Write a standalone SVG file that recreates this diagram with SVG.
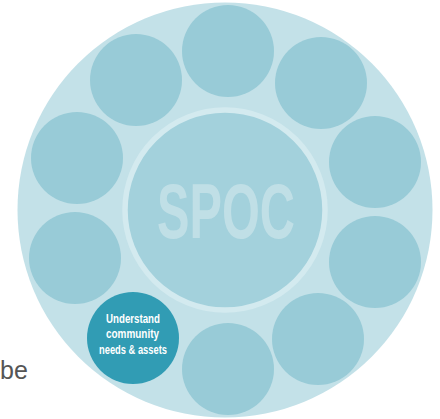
<svg xmlns="http://www.w3.org/2000/svg" width="440" height="419" viewBox="0 0 440 419">
<style>
.sat{fill:#98cbd7}
.lbl{font-family:"Liberation Sans",Arial,sans-serif;font-weight:bold;fill:#ffffff;font-size:13.5px;text-anchor:middle}
</style>
<rect width="440" height="419" fill="#ffffff"/>
<text x="0" y="379" font-family="Liberation Sans, Arial, sans-serif" font-size="25" fill="#555555">be</text>
<g id="outer"><circle cx="225" cy="210" r="207.5" fill="#c3e1e8"/></g>
<g id="spoc">
<circle cx="225" cy="210" r="100" fill="#a3d1dc" stroke="#d3eaef" stroke-width="5.5"/>
<text x="226" y="238" font-family="Liberation Sans, Arial, sans-serif" font-weight="bold" font-size="78" fill="#c0dfe6" text-anchor="middle" textLength="138" lengthAdjust="spacingAndGlyphs">SPOC</text>
</g>
<g id="n1"><circle class="sat" cx="228" cy="51" r="46"/></g>
<g id="n2"><circle class="sat" cx="321" cy="83" r="46"/></g>
<g id="n3"><circle class="sat" cx="375" cy="162" r="46"/></g>
<g id="n4"><circle class="sat" cx="375" cy="262" r="46"/></g>
<g id="n5"><circle class="sat" cx="318" cy="339" r="46"/></g>
<g id="n6"><circle class="sat" cx="228" cy="369" r="46"/></g>
<g id="n7">
<circle cx="133" cy="338" r="46" fill="#319cb4"/>
<text class="lbl" x="133" y="323" textLength="54" lengthAdjust="spacingAndGlyphs">Understand</text>
<text class="lbl" x="132.5" y="338" textLength="53" lengthAdjust="spacingAndGlyphs">community</text>
<text class="lbl" x="133" y="354" textLength="68" lengthAdjust="spacingAndGlyphs">needs &amp; assets</text>
</g>
<g id="n8"><circle class="sat" cx="75" cy="258" r="46"/></g>
<g id="n9"><circle class="sat" cx="77" cy="158" r="46"/></g>
<g id="n10"><circle class="sat" cx="136" cy="80" r="46"/></g>
<g id="connectors"></g>
</svg>
